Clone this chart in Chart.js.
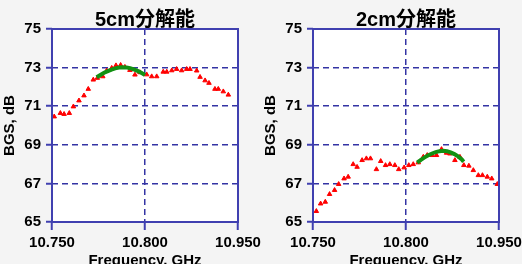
<!DOCTYPE html>
<html>
<head>
<meta charset="utf-8">
<script src="https://cdn.jsdelivr.net/npm/chart.js@4"></script>
<style>
  body { margin: 0; background: #f4f4f4; }
  #wrap { display: flex; width: 522px; height: 264px; }
  canvas { display: block; }
</style>
</head>
<body>
<div id="wrap">
  <canvas id="left" width="261" height="264"></canvas>
  <canvas id="right" width="261" height="264"></canvas>
</div>
<script>
// tick labels as printed on the original (right one really says 10.950)
const xTickLabels = ["10.750", "10.800", "10.950"];
const yTickValues = [65, 67, 69, 71, 73, 75];

const titleLeft = "5cm分解能";
const titleRight = "2cm分解能";

// 5cm measured points
const freqLeft = [10.7512, 10.7545, 10.7565, 10.7593, 10.7615, 10.7645, 10.7672, 10.7695, 10.7722, 10.7744,
    10.7773, 10.7794, 10.7821, 10.7844, 10.7869, 10.7892, 10.7919, 10.7946, 10.7973, 10.8009, 10.8036, 10.8063,
    10.8098, 10.8117, 10.8144, 10.8170, 10.8197, 10.8224, 10.8242, 10.8278, 10.8296, 10.8323, 10.8344, 10.8376,
    10.8394, 10.8421, 10.8448];
const bgsLeft = [70.46, 70.64, 70.59, 70.64, 70.98, 71.29, 71.55, 71.89, 72.37, 72.46,
    72.54, 72.84, 72.98, 73.11, 73.13, 73.03, 72.87, 72.63, 72.75, 72.64, 72.54, 72.54,
    72.78, 72.78, 72.85, 72.92, 72.85, 72.92, 72.92, 72.84, 72.51, 72.33, 72.20, 71.89,
    71.89, 71.76, 71.59];

// 5cm fitted curve
const fitFreqLeft = [10.774, 10.776, 10.778, 10.780, 10.782, 10.784, 10.786, 10.788, 10.790, 10.792, 10.794, 10.796, 10.798, 10.800];
const fitBgsLeft = [72.50, 72.62, 72.73, 72.82, 72.90, 72.96, 73.00, 73.02, 73.01, 72.97, 72.91, 72.83, 72.73, 72.62];

// 2cm measured points
const freqRight = [10.7518, 10.7541, 10.7566, 10.7589, 10.7616, 10.7638, 10.7667, 10.7689, 10.7716, 10.7737,
    10.7764, 10.7787, 10.7809, 10.7841, 10.7864, 10.7890, 10.7913, 10.7940, 10.7961, 10.7990, 10.8015, 10.8039,
    10.8066, 10.8093, 10.8114, 10.8141, 10.8164, 10.8191, 10.8218, 10.8236, 10.8263, 10.8290, 10.8311, 10.8338,
    10.8362, 10.8389, 10.8411, 10.8437, 10.8461, 10.8491];
const bgsRight = [65.56, 65.95, 66.04, 66.44, 66.65, 66.96, 67.25, 67.34, 67.99, 67.85,
    68.20, 68.29, 68.29, 67.73, 68.15, 67.94, 67.99, 67.94, 67.73, 67.82, 67.94, 67.99,
    68.08, 68.37, 68.46, 68.46, 68.46, 68.77, 68.58, 68.54, 68.20, 68.37, 67.94, 67.91,
    67.68, 67.42, 67.42, 67.34, 67.25, 66.96];

// 2cm fitted curve
const fitFreqRight = [10.806, 10.808, 10.810, 10.812, 10.814, 10.816, 10.818, 10.820, 10.822, 10.824, 10.826, 10.828, 10.830, 10.831];
const fitBgsRight = [68.08, 68.22, 68.35, 68.46, 68.55, 68.62, 68.67, 68.69, 68.67, 68.61, 68.52, 68.40, 68.24, 68.12];

const fontFamily = "'Liberation Sans', Arial, 'Noto Sans CJK JP', sans-serif";
const axisBlue = "#4040b0";
const gridBlue = "#3434a4";

function toPoints(xs, ys){
    let pts = [];
    for(let i = 0; i < xs.length; i++){
        pts.push({x: xs[i], y: ys[i]});
    }
    return pts;
}

// white plot area + solid frame on all four sides
const frame = {
    id: "frame",
    beforeDraw: function(chart){
        const a = chart.chartArea;
        chart.ctx.save();
        chart.ctx.fillStyle = "#ffffff";
        chart.ctx.fillRect(a.left, a.top, a.right - a.left, a.bottom - a.top);
        chart.ctx.restore();
    },
    afterDraw: function(chart){
        const a = chart.chartArea;
        const ctx = chart.ctx;
        ctx.save();
        ctx.strokeStyle = axisBlue;
        ctx.lineWidth = 2;
        ctx.strokeRect(a.left, a.top, a.right - a.left, a.bottom - a.top);
        ctx.restore();
    }
};

function makeChart(canvasId, title, xs, ys, fx, fy){
    const config = {
        type: "scatter",
        data: {
            datasets: [
                {
                    label: "measured",
                    data: toPoints(xs, ys),
                    pointStyle: "triangle",
                    pointRadius: 2.6,
                    backgroundColor: "#ff0000",
                    borderColor: "#ff0000",
                    borderWidth: 1,
                    order: 1
                },
                {
                    label: "fit",
                    data: toPoints(fx, fy),
                    showLine: true,
                    borderColor: "#129112",
                    borderWidth: 4,
                    pointRadius: 0,
                    order: 0
                }
            ]
        },
        options: {
            responsive: false,
            animation: false,
            layout: { padding: { left: 0, right: 23, top: 0, bottom: 0 } },
            plugins: {
                legend: { display: false },
                tooltip: { enabled: false },
                title: {
                    display: true,
                    text: title,
                    fullSize: false,
                    color: "#000000",
                    font: { family: fontFamily, size: 20, weight: "bold" },
                    padding: { top: 8, bottom: -3 }
                }
            },
            scales: {
                x: {
                    type: "linear",
                    min: 10.75,
                    max: 10.85,
                    afterBuildTicks: function(scale){
                        scale.ticks = [{value: 10.75}, {value: 10.80}, {value: 10.85}];
                    },
                    afterFit: function(scale){
                        scale.height = 42;
                        scale.paddingLeft = 0;
                        scale.paddingRight = 0;
                    },
                    ticks: {
                        autoSkip: false,
                        maxRotation: 0,
                        padding: 4,
                        color: "#000000",
                        font: { family: fontFamily, size: 15, weight: "bold" },
                        callback: function(value, index){
                            return xTickLabels[index];
                        }
                    },
                    grid: {
                        color: gridBlue,
                        lineWidth: 1.5,
                        tickLength: 8,
                        tickColor: axisBlue,
                        tickWidth: 2
                    },
                    border: { display: false, dash: [6, 4] },
                    title: {
                        display: true,
                        text: "Frequency, GHz",
                        color: "#000000",
                        font: { family: fontFamily, size: 15, weight: "bold" },
                        padding: { top: 0, bottom: -6 }
                    }
                },
                y: {
                    min: 65,
                    max: 75,
                    afterBuildTicks: function(scale){
                        scale.ticks = yTickValues.map(function(v){ return {value: v}; });
                    },
                    afterFit: function(scale){
                        scale.width = 52;
                        scale.paddingTop = 0;
                        scale.paddingBottom = 0;
                    },
                    ticks: {
                        padding: 5,
                        color: "#000000",
                        font: { family: fontFamily, size: 15, weight: "bold" }
                    },
                    grid: {
                        color: gridBlue,
                        lineWidth: 1.5,
                        tickLength: 6,
                        tickColor: axisBlue,
                        tickWidth: 2
                    },
                    border: { display: false, dash: [6, 4] },
                    title: {
                        display: true,
                        text: "BGS, dB",
                        color: "#000000",
                        font: { family: fontFamily, size: 15, weight: "bold" },
                        padding: { top: 1, bottom: 0 }
                    }
                }
            }
        },
        plugins: [frame]
    };
    return new Chart(document.getElementById(canvasId), config);
}

makeChart("left", titleLeft, freqLeft, bgsLeft, fitFreqLeft, fitBgsLeft);
makeChart("right", titleRight, freqRight, bgsRight, fitFreqRight, fitBgsRight);
</script>
</body>
</html>
